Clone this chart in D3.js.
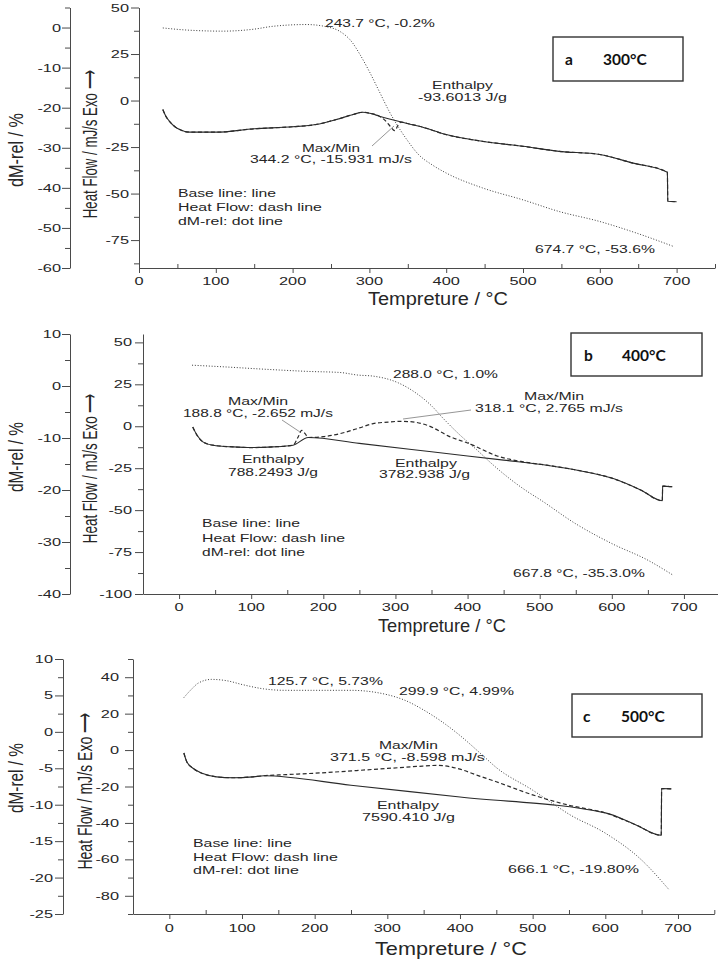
<!DOCTYPE html>
<html><head><meta charset="utf-8">
<script src="https://cdn.jsdelivr.net/npm/d3@7/dist/d3.min.js"></script>
<style>html,body{margin:0;padding:0;background:#fff;} svg{display:block;}</style>
</head><body>
<svg id="chart" width="718" height="959"></svg>
<script>
// ---------------- DATA ----------------
// Panel a (300°C)
const aSolidT  = [31, 35, 40, 46, 53, 66, 100, 150, 200, 230, 257, 279, 291, 302, 313, 326, 339, 352, 365, 400, 447, 500, 547, 600, 642, 688, 688.5, 700];
const aSolidHF = [-4.8, -8.5, -11.3, -13.8, -15.6, -17, -17, -15.2, -14.1, -12.9, -10.2, -7.5, -6.3, -7, -8.4, -9.9, -11.3, -12.6, -13.8, -18.3, -21.9, -24.6, -27.3, -29, -33.5, -38.5, -54.1, -54.4];
const aDashT   = [31, 35, 40, 46, 53, 66, 100, 150, 200, 230, 257, 279, 291, 302, 313, 320, 327, 333, 337, 341, 352, 365, 400, 447, 500, 547, 600, 642, 688, 688.5, 700];
const aDashHF  = [-4.8, -8.5, -11.3, -13.8, -15.6, -17, -17, -15.2, -14.1, -12.9, -10.2, -7.5, -6.3, -7, -8.4, -10.5, -13.8, -16.2, -13.5, -11.6, -12.6, -13.8, -18.3, -21.9, -24.6, -27.3, -29, -33.5, -38.5, -54.1, -54.4];
const aDotT    = [31, 60, 109, 150, 174, 218, 244, 261, 278, 287, 300, 313, 326, 340, 350, 363, 382, 400, 447, 500, 547, 600, 648, 697];
const aDotDM   = [-0.1, -0.6, -0.9, -0.4, 0.3, 0.75, 0.2, -0.9, -3.8, -6.5, -11, -16, -21, -25.5, -28.3, -31.5, -34.3, -36.3, -40, -43, -45.9, -48.4, -51.3, -54.7];
const aXTicks  = [0, 100, 200, 300, 400, 500, 600, 700];
const aHFTicks = [50, 25, 0, -25, -50, -75];
const aDMTicks = [0, -10, -20, -30, -40, -50, -60];

// Panel b (400°C)
const bSolidT  = [19, 25, 33, 47, 75, 100, 130, 158, 179, 250, 350, 450, 510, 547, 602, 640, 670, 670.5, 684];
const bSolidHF = [-0.5, -5.4, -9.3, -11.3, -12.3, -12.7, -12.3, -11.3, -6.7, -10.2, -15.2, -20.2, -23.2, -25.8, -31.2, -38, -44.4, -35.7, -36.1];
const bDashT   = [19, 25, 33, 47, 75, 100, 130, 158, 165, 170, 175, 179, 200, 223, 250, 269, 290, 304, 318, 344, 376, 402, 441, 477, 510, 547, 602, 640, 670, 670.5, 684];
const bDashHF  = [-0.5, -5.4, -9.3, -11.3, -12.3, -12.7, -12.3, -11.3, -6.5, -2.4, -4.6, -6.7, -6.2, -4.4, -1, 1.6, 2.5, 2.9, 2.8, 0.6, -6.3, -10.3, -17.7, -21.2, -23.2, -25.8, -31.2, -38, -44.4, -35.7, -36.1];
const bDotT    = [18, 60, 122, 180, 223, 248, 269, 304, 330, 350, 366, 390, 413, 434, 460, 483, 500, 550, 600, 650, 684];
const bDotDM   = [4.0, 3.7, 3.2, 2.8, 2.6, 2.1, 1.9, 0.6, -1.5, -3.8, -6.2, -9.5, -12.3, -15.0, -18, -20.3, -21.8, -26.5, -30.3, -33.5, -36.3];
const bXTicks  = [0, 100, 200, 300, 400, 500, 600, 700];
const bHFTicks = [50, 25, 0, -25, -50, -75, -100];
const bDMTicks = [10, 0, -10, -20, -30, -40];

// Panel c (500°C)
const cSolidT  = [20, 24, 33, 46, 65, 88, 115, 130, 250, 400, 600, 640, 677, 677.5, 691];
const cSolidHF = [-1.6, -6.4, -10.1, -12.9, -14.7, -15.2, -14.7, -14.1, -19.3, -25.8, -34.5, -40.7, -46.8, -21.1, -21.3];
const cDashT   = [20, 24, 33, 46, 65, 88, 115, 130, 160, 200, 234, 270, 300, 340, 371, 400, 425, 450, 500, 550, 600, 640, 677, 677.5, 691];
const cDashHF  = [-1.6, -6.4, -10.1, -12.9, -14.7, -15.2, -14.7, -14.1, -13.5, -12.7, -11.9, -10.9, -10.1, -9.0, -8.4, -10.5, -14, -17.4, -24.6, -30.3, -34.5, -40.7, -46.8, -21.1, -21.3];
const cDotT    = [20, 30, 40, 58, 80, 100, 130, 160, 200, 250, 300, 325, 350, 375, 400, 432, 450, 500, 533, 550, 600, 650, 688];
const cDotDM   = [4.7, 5.8, 6.7, 7.2, 7.0, 6.5, 5.9, 5.7, 5.7, 5.7, 5.1, 4.3, 3.0, 1.4, -0.5, -3.3, -4.9, -8.0, -10.2, -11.3, -13.9, -17.6, -21.7];
const cXTicks  = [0, 100, 200, 300, 400, 500, 600, 700];
const cHFTicks = [40, 20, 0, -20, -40, -60, -80];
const cDMTicks = [10, 5, 0, -5, -10, -15, -20, -25];

const legendLines = ["Base line: line", "Heat Flow: dash line", "dM-rel: dot line"];

// ---------------- DRAWING ----------------
const svg = d3.select('#chart');
const FONT = '"Liberation Sans", Arial, Helvetica, sans-serif';
const INK = '#262626';
const AX = '#4a4a4a';
const SX = 1.42;

// text fitted to a measured length by scaling along the baseline only
function fitted(g, s, x, y, len, size, rot, anchor) {
  const t = g.append('text').attr('font-family', FONT).attr('font-size', size).attr('fill', INK)
    .attr('text-anchor', anchor || 'start').text(s);
  const nat = t.node().getComputedTextLength();
  const k = len ? len / nat : 1;
  t.attr('transform', `translate(${x},${y})${rot ? ' rotate(' + rot + ')' : ''} scale(${k},1)`);
  return t;
}
function stretched(g, s, x, y, anchor, size) {
  g.append('text').attr('transform', `translate(${x},${y}) scale(${SX},1)`)
    .attr('text-anchor', anchor).attr('font-family', FONT).attr('font-size', size)
    .attr('fill', INK).text(s);
}

function drawPanel(p) {
  const g = svg.append('g');
  const x  = d3.scaleLinear().domain(p.xDomain).range(p.xRange);
  const hf = d3.scaleLinear().domain(p.hfDomain).range(p.yRange);
  const dm = d3.scaleLinear().domain(p.dmDomain).range(p.yRange);
  const yB = p.yRange[0];

  const styleAxis = sel => { sel.selectAll('path,line').attr('stroke', AX).attr('stroke-width', 1); sel.selectAll('text').remove(); };

  // x axis: major down, minor up
  g.append('g').attr('transform', `translate(0,${yB})`)
    .call(d3.axisBottom(x).tickValues(p.xTicks).tickSize(5).tickSizeOuter(0).tickFormat(''))
    .call(styleAxis);
  g.append('g').attr('transform', `translate(0,${yB})`)
    .call(d3.axisTop(x).tickValues(d3.range(p.xTicks[0] + 50, p.xDomain[1] + 1, 100)).tickSize(4).tickSizeOuter(0).tickFormat(''))
    .call(sel => sel.select('.domain').remove()).call(styleAxis);
  p.xTicks.forEach(v => stretched(g, String(v), x(v), p.xLabelY, 'middle', 11.5));

  // heat flow axis
  g.append('g').attr('transform', `translate(${p.hfAxisX},0)`)
    .call(d3.axisLeft(hf).tickValues(p.hfTicks).tickSize(8).tickSizeOuter(0).tickFormat(''))
    .call(styleAxis);
  g.append('g').attr('transform', `translate(${p.hfAxisX},0)`)
    .call(d3.axisLeft(hf).tickValues(p.hfMinor).tickSize(5).tickSizeOuter(0).tickFormat(''))
    .call(sel => sel.select('.domain').remove()).call(styleAxis);
  p.hfTicks.forEach(v => stretched(g, String(v), p.hfLabelX, hf(v) + 4, 'end', 11.5));

  // dM-rel axis
  g.append('g').attr('transform', `translate(${p.dmAxisX},0)`)
    .call(d3.axisLeft(dm).tickValues(p.dmTicks).tickSize(8).tickSizeOuter(0).tickFormat(''))
    .call(styleAxis);
  g.append('g').attr('transform', `translate(${p.dmAxisX},0)`)
    .call(d3.axisLeft(dm).tickValues(p.dmMinor).tickSize(5).tickSizeOuter(0).tickFormat(''))
    .call(sel => sel.select('.domain').remove()).call(styleAxis);
  p.dmTicks.forEach(v => stretched(g, String(v), p.dmLabelX, dm(v) + 4, 'end', 11.5));

  // axis titles
  fitted(g, 'dM-rel / %', p.dmTitle[0], p.dmTitle[1], p.dmTitle[2], 21, -90, 'middle');
  fitted(g, 'Heat Flow / mJ/s Exo \u27F6', p.hfTitle[0], p.hfTitle[1], p.hfTitle[2], 21, -90, 'middle');
  fitted(g, 'Tempreture / \u00B0C', p.xTitle[0], p.xTitle[1], p.xTitle[2], 17.5, 0, 'start');

  // curves
  const lineHF = d3.line().x(d => x(d[0])).y(d => hf(d[1])).curve(d3.curveMonotoneX);
  const lineDM = d3.line().x(d => x(d[0])).y(d => dm(d[1])).curve(d3.curveMonotoneX);
  g.append('path').datum(d3.zip(p.dotT, p.dotDM)).attr('d', lineDM)
    .attr('fill', 'none').attr('stroke', '#3c3c3c').attr('stroke-width', 1).attr('stroke-dasharray', '1,1.8');
  g.append('path').datum(d3.zip(p.dashT, p.dashHF)).attr('d', lineHF)
    .attr('fill', 'none').attr('stroke', '#2a2a2a').attr('stroke-width', 1.2).attr('stroke-dasharray', '4,2.5');
  g.append('path').datum(d3.zip(p.solidT, p.solidHF)).attr('d', lineHF)
    .attr('fill', 'none').attr('stroke', '#2a2a2a').attr('stroke-width', 1.1);

  // leader lines
  p.leaders.forEach(l => g.append('line').attr('x1', l[0]).attr('y1', l[1]).attr('x2', l[2]).attr('y2', l[3])
    .attr('stroke', '#8a8a8a').attr('stroke-width', 0.9));

  // annotations
  p.notes.forEach(n => fitted(g, n[0], n[1], n[2], n[3], 10.8, 0, 'start'));
  legendLines.forEach((s, i) => fitted(g, s, p.legend[0], p.legend[1][i], p.legend[2][i], 10.8, 0, 'start'));

  // box
  const b = p.box;
  g.append('rect').attr('x', b[0]).attr('y', b[1]).attr('width', b[2]).attr('height', b[3])
    .attr('fill', '#fff').attr('stroke', '#333').attr('stroke-width', 1.4);
  g.append('text').attr('x', b[4]).attr('y', b[6]).attr('font-family', 'Lato, "Open Sans", sans-serif')
    .attr('font-weight', 700).attr('font-size', 15.5).attr('fill', '#111').text(p.boxLetter);
  g.append('text').attr('x', b[5]).attr('y', b[6]).attr('font-family', 'Lato, "Open Sans", sans-serif')
    .attr('font-weight', 700).attr('font-size', 15.5).attr('fill', '#111').text(p.boxTemp);
}

drawPanel({
  xDomain: [0, 750], xRange: [139, 715], hfDomain: [-90, 50], dmDomain: [-60, 5], yRange: [268, 7.5],
  xTicks: aXTicks, hfTicks: aHFTicks, dmTicks: aDMTicks,
  hfMinor: d3.range(-87.5, 50, 25), dmMinor: d3.range(-55, 6, 10),
  hfAxisX: 139, dmAxisX: 70, xLabelY: 285, hfLabelX: 129, dmLabelX: 61,
  dmTitle: [23, 150, 74], hfTitle: [97, 144, 148], xTitle: [368, 305, 140],
  solidT: aSolidT, solidHF: aSolidHF, dashT: aDashT, dashHF: aDashHF, dotT: aDotT, dotDM: aDotDM,
  leaders: [[372, 146, 394, 126]],
  notes: [
    ['243.7 \u00B0C, -0.2%', 325, 27, 110],
    ['Enthalpy', 432, 89, 61],
    ['-93.6013 J/g', 418, 101, 89],
    ['Max/Min', 302, 152, 58],
    ['344.2 \u00B0C, -15.931 mJ/s', 250, 163, 162],
    ['674.7 \u00B0C, -53.6%', 535, 253, 120]
  ],
  legend: [178, [197, 211, 225], [98, 144, 105]],
  box: [553, 37, 130, 44, 565, 603, 65], boxLetter: 'a', boxTemp: '300\u00B0C'
});

drawPanel({
  xDomain: [-50, 750], xRange: [143, 720], hfDomain: [-100, 55], dmDomain: [-40, 10], yRange: [594, 334],
  xTicks: bXTicks, hfTicks: bHFTicks, dmTicks: bDMTicks,
  hfMinor: d3.range(-87.5, 55, 25), dmMinor: d3.range(-35, 10, 10),
  hfAxisX: 143, dmAxisX: 70, xLabelY: 611, hfLabelX: 132, dmLabelX: 61,
  dmTitle: [23, 457, 70], hfTitle: [97, 468, 150], xTitle: [378, 632, 128],
  solidT: bSolidT, solidHF: bSolidHF, dashT: bDashT, dashHF: bDashHF, dotT: bDotT, dotDM: bDotDM,
  leaders: [[403, 419, 471, 410], [282, 420, 300, 432]],
  notes: [
    ['288.0 \u00B0C, 1.0%', 393, 378, 105],
    ['Max/Min', 524, 400, 60],
    ['318.1 \u00B0C, 2.765 mJ/s', 475, 412, 148],
    ['Enthalpy', 395, 467, 62],
    ['3782.938 J/g', 379, 478, 91],
    ['Max/Min', 228, 405, 60],
    ['188.8 \u00B0C, -2.652 mJ/s', 183, 417, 150],
    ['Enthalpy', 242, 463, 62],
    ['788.2493 J/g', 228, 476, 90],
    ['667.8 \u00B0C, -35.3.0%', 513, 577, 132]
  ],
  legend: [202, [527, 542, 556], [98, 143, 103]],
  box: [571, 333, 131, 43, 584, 622, 361], boxLetter: 'b', boxTemp: '400\u00B0C'
});

drawPanel({
  xDomain: [-50, 750], xRange: [133, 714.3], hfDomain: [-90, 50], dmDomain: [-25, 10], yRange: [914, 659],
  xTicks: cXTicks, hfTicks: cHFTicks, dmTicks: cDMTicks,
  hfMinor: d3.range(-90, 51, 20), dmMinor: d3.range(-22.5, 10, 5),
  hfAxisX: 133, dmAxisX: 63, xLabelY: 932, hfLabelX: 119, dmLabelX: 53,
  dmTitle: [23, 778, 70], hfTitle: [92, 791, 157], xTitle: [375, 955, 152],
  solidT: cSolidT, solidHF: cSolidHF, dashT: cDashT, dashHF: cDashHF, dotT: cDotT, dotDM: cDotDM,
  leaders: [],
  notes: [
    ['125.7 \u00B0C, 5.73%', 268, 685, 115],
    ['299.9 \u00B0C, 4.99%', 399, 695, 115],
    ['Max/Min', 379, 749, 59],
    ['371.5 \u00B0C, -8.598 mJ/s', 330, 761, 155],
    ['Enthalpy', 377, 809, 62],
    ['7590.410 J/g', 362, 821, 93],
    ['666.1 \u00B0C, -19.80%', 508, 873, 131]
  ],
  legend: [193, [847, 861, 874], [99, 145, 106]],
  box: [572, 694, 130, 43, 583, 621, 722], boxLetter: 'c', boxTemp: '500\u00B0C'
});
</script>
</body></html>
